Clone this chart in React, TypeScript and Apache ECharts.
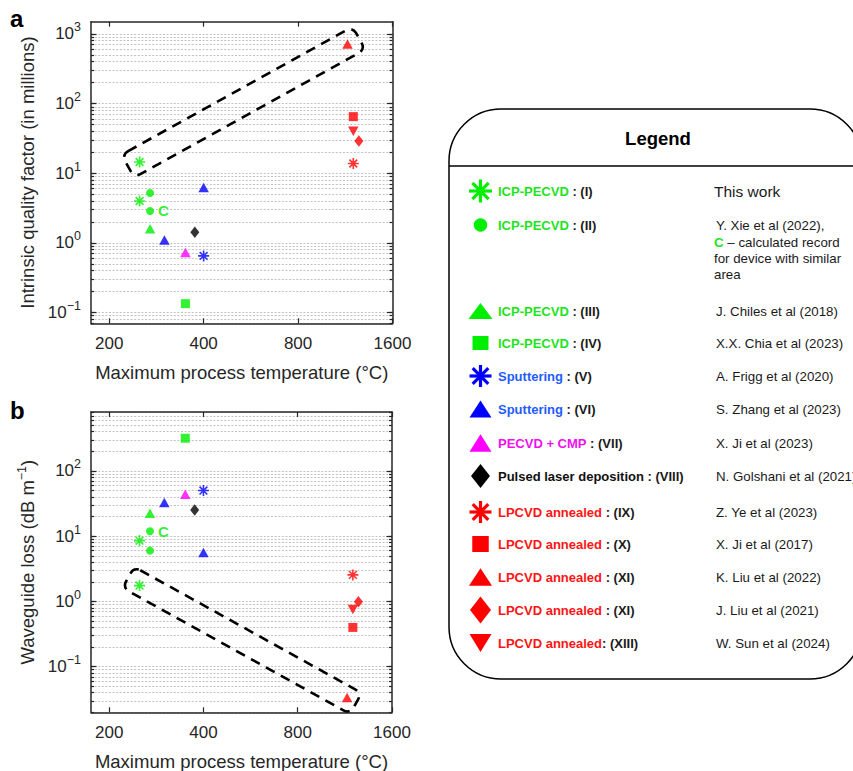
import React, { useEffect, useRef } from 'react';
import * as echarts from 'echarts';

const FONT = "'Liberation Sans', Arial, Helvetica, sans-serif";
const AXIS_COLOR = '#262626';
const TEXT_DARK = '#1a1a1a';

const GREEN = '#00ee00';
const BLUE = '#0000ff';
const MAGENTA = '#ff00ff';
const BLACK = '#000000';
const RED = '#ff0000';

// ---------- axis ranges & ticks ----------
const tempRange = [175, 1600];
const tempTicks = [200, 400, 800, 1600];
const qRange = [0.07, 1500];
const qDecades = [-1, 0, 1, 2, 3];
const lossRange = [0.02, 800];
const lossDecades = [-1, 0, 1, 2];

// ---------- data (temperature °C, Q in millions, loss in dB/m) ----------
const tempsI = [250, 250];
const qI = [14.5, 4.0];
const lossI = [1.75, 8.55];

const tempsII = [270, 270];
const qII = [5.2, 2.87]; // 2nd point = "C"
const lossII = [6.0, 11.9]; // 2nd point = "C"

const tempsIII = [270];
const qIII = [1.6];
const lossIII = [22.5];

const tempsIV = [350];
const qIV = [0.134];
const lossIV = [317];

const tempsV = [400];
const qV = [0.65];
const lossV = [50];

const tempsVI = [300, 400];
const qVI = [1.1, 6.25];
const lossVI = [32.7, 5.6];

const tempsVII = [350];
const qVII = [0.73];
const lossVII = [44];

const tempsVIII = [375];
const qVIII = [1.42];
const lossVIII = [25.2];

const tempsIX = [1200];
const qIX = [13.8];
const lossIX = [2.55];

const tempsX = [1200];
const qX = [65];
const lossX = [0.4];

const tempsXI = [1150];
const qXI = [720];
const lossXI = [0.0336];

const tempsXII = [1250];
const qXII = [29];
const lossXII = [0.99];

const tempsXIII = [1200];
const qXIII = [40];
const lossXIII = [0.75];

const labelledIndexII = 1;

// ---------- legend text ----------
const legendMethod = [
  'ICP-PECVD', 'ICP-PECVD', 'ICP-PECVD', 'ICP-PECVD', 'Sputtering', 'Sputtering',
  'PECVD + CMP', 'Pulsed laser deposition', 'LPCVD annealed', 'LPCVD annealed',
  'LPCVD annealed', 'LPCVD annealed', 'LPCVD annealed',
];
const legendSuffix = [
  ' : (I)', ' : (II)', ' : (III)', ' : (IV)', ' : (V)', ' : (VI)', ' : (VII)',
  ' : (VIII)', ' : (IX)', ' : (X)', ' : (XI)', ' : (XI)', ': (XIII)',
];
const legendRefs = [
  'This work', 'Y. Xie et al (2022),', 'J. Chiles et al (2018)', 'X.X. Chia et al (2023)',
  'A. Frigg et al (2020)', 'S. Zhang et al (2023)', 'X. Ji et al (2023)',
  'N. Golshani et al (2021)', 'Z. Ye et al (2023)', 'X. Ji et al (2017)',
  'K. Liu et al (2022)', 'J. Liu et al (2021)', 'W. Sun et al (2024)',
];

type Kind = 'asterisk' | 'circle' | 'triangle' | 'square' | 'diamond' | 'down';

const methods: { temps: number[]; q: number[]; loss: number[]; color: string; textColor: string; kind: Kind }[] = [
  { temps: tempsI, q: qI, loss: lossI, color: GREEN, textColor: '#1de41d', kind: 'asterisk' },
  { temps: tempsII, q: qII, loss: lossII, color: GREEN, textColor: '#1de41d', kind: 'circle' },
  { temps: tempsIII, q: qIII, loss: lossIII, color: GREEN, textColor: '#1de41d', kind: 'triangle' },
  { temps: tempsIV, q: qIV, loss: lossIV, color: GREEN, textColor: '#1de41d', kind: 'square' },
  { temps: tempsV, q: qV, loss: lossV, color: BLUE, textColor: '#1f5cff', kind: 'asterisk' },
  { temps: tempsVI, q: qVI, loss: lossVI, color: BLUE, textColor: '#1f5cff', kind: 'triangle' },
  { temps: tempsVII, q: qVII, loss: lossVII, color: MAGENTA, textColor: '#f010f0', kind: 'triangle' },
  { temps: tempsVIII, q: qVIII, loss: lossVIII, color: BLACK, textColor: '#111111', kind: 'diamond' },
  { temps: tempsIX, q: qIX, loss: lossIX, color: RED, textColor: '#ff1414', kind: 'asterisk' },
  { temps: tempsX, q: qX, loss: lossX, color: RED, textColor: '#ff1414', kind: 'square' },
  { temps: tempsXI, q: qXI, loss: lossXI, color: RED, textColor: '#ff1414', kind: 'triangle' },
  { temps: tempsXII, q: qXII, loss: lossXII, color: RED, textColor: '#ff1414', kind: 'diamond' },
  { temps: tempsXIII, q: qXIII, loss: lossXIII, color: RED, textColor: '#ff1414', kind: 'down' },
];

// ---------- layout (pixels) ----------
const GRIDS = [
  { left: 91, top: 21.7, width: 301.5, height: 301.6 },
  { left: 91, top: 412, width: 301, height: 300.3 },
];
const LEGEND_ROW_Y = [191, 225, 311, 343, 376, 409, 443, 476, 512, 544, 577, 610, 643];
const LEGEND_MARK_SIZE: [number, number][] = [
  [23, 23], [13.5, 13.5], [24, 16], [16, 14], [22, 22], [22, 17], [22, 17.5],
  [19, 24], [22, 22], [16.5, 16], [23, 17.5], [21, 27], [22, 18],
];

const L = Math.log10;
const ASTERISK = 'path://M10 0L10 20M0 10L20 10M2.93 2.93L17.07 17.07M2.93 17.07L17.07 2.93';

function logTicks(range: number[]) {
  const out: number[] = [];
  for (let e = Math.floor(L(range[0])); e <= Math.ceil(L(range[1])); e++) {
    for (let k = 1; k <= 9; k++) {
      const v = k * Math.pow(10, e);
      if (v >= range[0] * 0.9999 && v <= range[1] * 1.0001) out.push(L(v));
    }
  }
  return out;
}

const expLabel = (v: number) => {
  const e = Math.round(v);
  return `{b|10}{s|${e < 0 ? '\u2212' + -e : e}}`;
};

const labelRich = {
  b: { fontSize: 17, fontFamily: FONT, color: AXIS_COLOR, lineHeight: 26 },
  s: { fontSize: 12.5, fontFamily: FONT, color: AXIS_COLOR, verticalAlign: 'top', lineHeight: 14 },
};

function buildAxes(g: number, yRange: number[], decades: number[], yName: string, nameRich: any) {
  const xMin = L(tempRange[0]);
  const xMax = L(tempRange[1]);
  const yMin = L(yRange[0]);
  const yMax = L(yRange[1]);
  const xT = tempTicks.map(L);
  const minor = logTicks(yRange);
  const lineStyle = { color: AXIS_COLOR, width: 1.5 };
  const tickStyle = { color: AXIS_COLOR, width: 1.2 };
  const xAxes = [
    {
      type: 'value', gridIndex: g, min: xMin, max: xMax, position: 'bottom',
      axisLine: { show: true, onZero: false, lineStyle },
      axisTick: { show: true, inside: true, length: 5, customValues: xT, lineStyle: tickStyle },
      axisLabel: {
        customValues: xT, margin: 12, fontSize: 17, fontFamily: FONT, color: AXIS_COLOR,
        formatter: (v: number) => String(Math.round(Math.pow(10, v))),
      },
      splitLine: { show: false },
      name: 'Maximum process temperature (\u00b0C)', nameLocation: 'middle', nameGap: 40,
      nameTextStyle: { fontSize: 18.5, fontFamily: FONT, color: AXIS_COLOR },
    },
    {
      type: 'value', gridIndex: g, min: xMin, max: xMax, position: 'top',
      axisLine: { show: true, onZero: false, lineStyle },
      axisTick: { show: true, inside: true, length: 5, customValues: xT, lineStyle: tickStyle },
      axisLabel: { show: false },
      splitLine: { show: false },
    },
  ];
  const yAxes = [
    {
      type: 'value', gridIndex: g, min: yMin, max: yMax, position: 'left',
      axisLine: { show: true, onZero: false, lineStyle },
      axisTick: { show: true, inside: true, length: 5.5, customValues: decades, lineStyle: tickStyle },
      axisLabel: { customValues: decades, margin: 10, formatter: expLabel, rich: labelRich },
      splitLine: { show: false },
      name: yName, nameLocation: 'middle', nameGap: 52,
      nameTextStyle: { fontSize: 18.5, fontFamily: FONT, color: AXIS_COLOR, lineHeight: 24, rich: nameRich },
    },
    {
      type: 'value', gridIndex: g, min: yMin, max: yMax, position: 'left',
      axisLine: { show: false, onZero: false },
      axisTick: { show: true, inside: true, length: 3, customValues: minor, lineStyle: tickStyle },
      axisLabel: { show: false },
      splitLine: { show: true, lineStyle: { type: [2, 1.6], color: '#c2c2c2', width: 1.2 } },
    },
    {
      type: 'value', gridIndex: g, min: yMin, max: yMax, position: 'right',
      axisLine: { show: true, onZero: false, lineStyle },
      axisTick: { show: true, inside: true, length: 5.5, customValues: decades, lineStyle: tickStyle },
      axisLabel: { show: false },
      splitLine: { show: false },
    },
    {
      type: 'value', gridIndex: g, min: yMin, max: yMax, position: 'right',
      axisLine: { show: false, onZero: false },
      axisTick: { show: true, inside: true, length: 3, customValues: minor, lineStyle: tickStyle },
      axisLabel: { show: false },
      splitLine: { show: false },
    },
  ];
  return { xAxes, yAxes };
}

function symbolSpec(kind: Kind) {
  switch (kind) {
    case 'asterisk': return { symbol: ASTERISK, symbolSize: 11, symbolRotate: 0 };
    case 'circle': return { symbol: 'circle', symbolSize: 8, symbolRotate: 0 };
    case 'triangle': return { symbol: 'triangle', symbolSize: [10.5, 9.5], symbolRotate: 0 };
    case 'square': return { symbol: 'rect', symbolSize: 9, symbolRotate: 0 };
    case 'diamond': return { symbol: 'diamond', symbolSize: [9, 11.5], symbolRotate: 0 };
    default: return { symbol: 'triangle', symbolSize: [10.5, 9.5], symbolRotate: 180 };
  }
}

function buildSeries() {
  const series: any[] = [];
  [0, 1].forEach((panel) => {
    methods.forEach((m, mi) => {
      const spec = symbolSpec(m.kind);
      const vals = panel === 0 ? m.q : m.loss;
      const data = m.temps.map((t, i) => {
        const item: any = { value: [L(t), L(vals[i])] };
        if (mi === 1 && i === labelledIndexII) {
          item.label = {
            show: true, formatter: 'C', position: 'right', distance: 4,
            color: GREEN, fontWeight: 'bold', fontSize: 15, fontFamily: FONT,
          };
        }
        return item;
      });
      series.push({
        type: 'scatter',
        xAxisIndex: panel * 2,
        yAxisIndex: panel * 4,
        symbol: spec.symbol,
        symbolSize: spec.symbolSize,
        symbolRotate: spec.symbolRotate,
        itemStyle: m.kind === 'asterisk'
          ? { color: m.color, borderColor: m.color, borderWidth: 1.6 }
          : { color: m.color },
        data,
        z: 5,
        silent: true,
      });
    });
  });
  return series;
}

function legendMarker(kind: Kind, color: string, cx: number, cy: number, w: number, h: number): any[] {
  const hw = w / 2;
  const hh = h / 2;
  switch (kind) {
    case 'asterisk': {
      const r = hw;
      const d = r * Math.SQRT1_2;
      const segs = [[0, -r, 0, r], [-r, 0, r, 0], [-d, -d, d, d], [-d, d, d, -d]];
      return segs.map((s) => ({
        type: 'line', z: 3,
        shape: { x1: cx + s[0], y1: cy + s[1], x2: cx + s[2], y2: cy + s[3] },
        style: { stroke: color, lineWidth: 3.2 },
      }));
    }
    case 'circle':
      return [{ type: 'circle', z: 3, shape: { cx, cy, r: hw }, style: { fill: color } }];
    case 'triangle':
      return [{ type: 'polygon', z: 3, shape: { points: [[cx - hw, cy + hh], [cx + hw, cy + hh], [cx, cy - hh]] }, style: { fill: color } }];
    case 'down':
      return [{ type: 'polygon', z: 3, shape: { points: [[cx - hw, cy - hh], [cx + hw, cy - hh], [cx, cy + hh]] }, style: { fill: color } }];
    case 'square':
      return [{ type: 'rect', z: 3, shape: { x: cx - hw, y: cy - hh, width: w, height: h }, style: { fill: color } }];
    default:
      return [{ type: 'polygon', z: 3, shape: { points: [[cx, cy - hh], [cx + hw, cy], [cx, cy + hh], [cx - hw, cy]] }, style: { fill: color } }];
  }
}

function buildGraphic() {
  const els: any[] = [];
  // panel letters
  els.push({ type: 'text', x: 10, y: 18, style: { text: 'a', font: `bold 24px ${FONT}`, fill: '#000', verticalAlign: 'middle' } });
  els.push({ type: 'text', x: 10, y: 410, style: { text: 'b', font: `bold 24px ${FONT}`, fill: '#000', verticalAlign: 'middle' } });

  // dashed highlight boxes
  const boxStyle = { fill: 'none', stroke: '#000', lineWidth: 2.6, lineDash: [10, 7] };
  const ang = (29 * Math.PI) / 180;
  els.push({
    type: 'rect', x: 243.4, y: 102.1, rotation: ang, z: 20,
    shape: { x: -132, y: -13, width: 264, height: 26, r: 7 }, style: boxStyle,
  });
  els.push({
    type: 'rect', x: 242.1, y: 640.4, rotation: -ang, z: 20,
    shape: { x: -130, y: -12, width: 260, height: 24, r: 7 }, style: boxStyle,
  });

  // legend frame
  els.push({
    type: 'rect', z: 1,
    shape: { x: 449, y: 109, width: 413, height: 570, r: 52 },
    style: { fill: '#fff', stroke: '#000', lineWidth: 1.5 },
  });
  els.push({ type: 'line', z: 2, shape: { x1: 449, y1: 166, x2: 862, y2: 166 }, style: { stroke: '#000', lineWidth: 1.5 } });
  els.push({
    type: 'text', z: 2, x: 658, y: 138,
    style: { text: 'Legend', font: `bold 18.5px ${FONT}`, fill: '#000', align: 'center', verticalAlign: 'middle' },
  });

  methods.forEach((m, i) => {
    const y = LEGEND_ROW_Y[i];
    const [w, h] = LEGEND_MARK_SIZE[i];
    legendMarker(m.kind, m.color, 480.5, y, w, h).forEach((e) => els.push(e));
    els.push({
      type: 'text', z: 3, x: 498, y,
      style: {
        text: `{c|${legendMethod[i]}}{k|${legendSuffix[i]}}`,
        verticalAlign: 'middle',
        rich: {
          c: { fill: m.textColor, fontSize: 13, fontWeight: 'bold', fontFamily: FONT },
          k: { fill: TEXT_DARK, fontSize: 13, fontWeight: 'bold', fontFamily: FONT },
        },
      },
    });
    els.push({
      type: 'text', z: 3, x: i === 0 ? 714 : 716, y,
      style: {
        text: legendRefs[i], fill: TEXT_DARK, verticalAlign: 'middle',
        font: `${i === 0 ? 15.5 : 13.3}px ${FONT}`,
      },
    });
  });
  // extra lines for row II reference
  els.push({
    type: 'text', z: 3, x: 714, y: 242,
    style: {
      text: '{g|C}{t| \u2013 calculated record}', verticalAlign: 'middle',
      rich: {
        g: { fill: '#1de41d', fontSize: 13.3, fontWeight: 'bold', fontFamily: FONT },
        t: { fill: TEXT_DARK, fontSize: 13.3, fontFamily: FONT },
      },
    },
  });
  els.push({ type: 'text', z: 3, x: 714, y: 258, style: { text: 'for device with similar', fill: TEXT_DARK, verticalAlign: 'middle', font: `13.3px ${FONT}` } });
  els.push({ type: 'text', z: 3, x: 714, y: 274, style: { text: 'area', fill: TEXT_DARK, verticalAlign: 'middle', font: `13.3px ${FONT}` } });
  return els;
}

function buildOption() {
  const a = buildAxes(0, qRange, qDecades, 'Intrinsic quality factor (in millions)', {});
  const b = buildAxes(1, lossRange, lossDecades, 'Waveguide loss (dB m{s|\u22121})', {
    s: { fontSize: 12.5, fontFamily: FONT, color: AXIS_COLOR, verticalAlign: 'top', lineHeight: 14 },
  });
  return {
    animation: false,
    backgroundColor: '#ffffff',
    textStyle: { fontFamily: FONT },
    grid: GRIDS.map((g) => ({ ...g, containLabel: false, outerBoundsMode: 'none' })),
    xAxis: [...a.xAxes, ...b.xAxes],
    yAxis: [...a.yAxes, ...b.yAxes],
    series: buildSeries(),
    graphic: buildGraphic(),
  };
}

export default function App() {
  const ref = useRef<HTMLDivElement>(null);
  useEffect(() => {
    if (!ref.current) return;
    const chart = echarts.init(ref.current, null, { renderer: 'svg' });
    chart.setOption(buildOption() as any);
    return () => chart.dispose();
  }, []);
  return (
    <div
      ref={ref}
      style={{ position: 'fixed', left: 0, top: 0, width: 853, height: 771, background: '#fff' }}
    />
  );
}
